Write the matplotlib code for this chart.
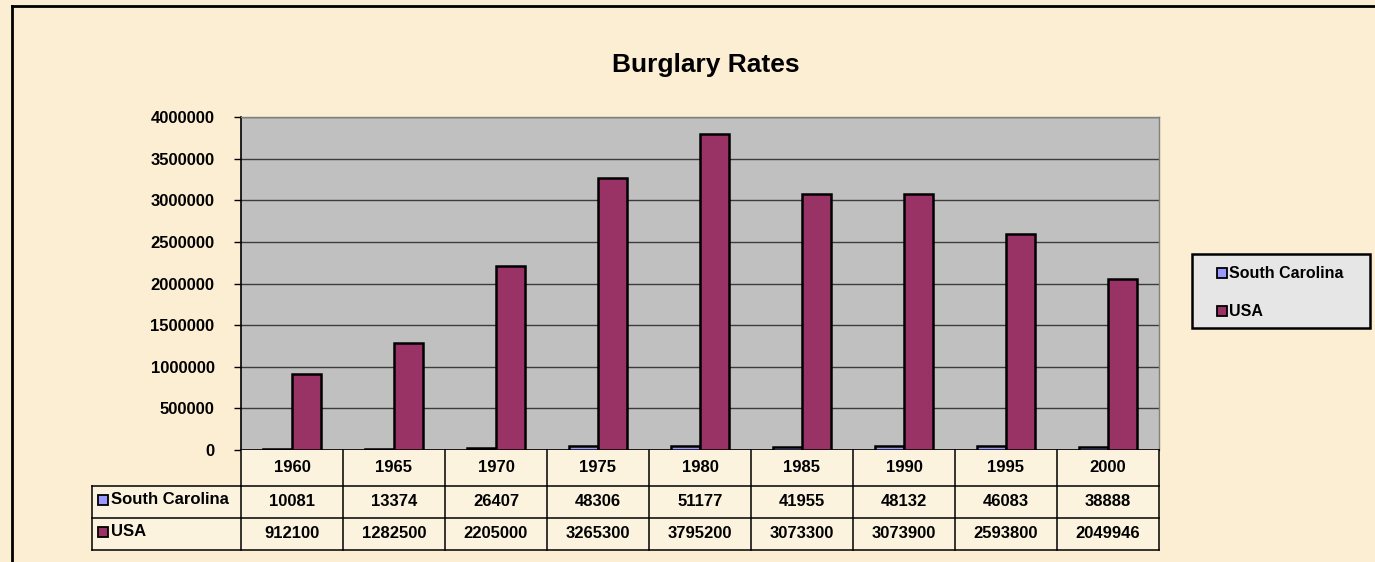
import matplotlib
matplotlib.use("Agg")
import matplotlib.pyplot as plt
import matplotlib.transforms as mtransforms
from matplotlib.lines import Line2D
from matplotlib.patches import Rectangle
import numpy as np

# ---- data ----
years = ["1960", "1965", "1970", "1975", "1980", "1985", "1990", "1995", "2000"]
south_carolina = [10081, 13374, 26407, 48306, 51177, 41955, 48132, 46083, 38888]
usa = [912100, 1282500, 2205000, 3265300, 3795200, 3073300, 3073900, 2593800, 2049946]
usa_labels = ["912100", "1282500", "2205000", "3265300", "3795200", "3073300",
              "3073900", "2593800", "2049946"]
series_names = ["South Carolina", "USA"]
title = "Burglary Rates"
y_ticks = [0, 500000, 1000000, 1500000, 2000000, 2500000, 3000000, 3500000, 4000000]

# ---- style ----
W, H = 1375, 562
BG = "#FCEED3"
CELL = "#FCF3DE"
SC_COLOR = "#9999FF"
USA_COLOR = "#993366"
FONT = "Liberation Sans"
plt.rcParams['font.family'] = [FONT, 'DejaVu Sans']

fig = plt.figure(figsize=(W / 100, H / 100), dpi=100, facecolor=BG)

# pixel transform (origin top-left)
pix = mtransforms.Affine2D().scale(1 / W, -1 / H).translate(0, 1) + fig.transFigure

# plot area in pixels
L, R, T, B = 241, 1159, 117, 450
ax = fig.add_axes([L / W, 1 - B / H, (R - L) / W, (B - T) / H])
ax.set_facecolor("#C0C0C0")

x = np.arange(len(years))
bw = 0.285
ax.bar(x - bw / 2, south_carolina, width=bw, color=SC_COLOR, edgecolor="black",
       linewidth=1.8, zorder=3)
ax.bar(x + bw / 2, usa, width=bw, color=USA_COLOR, edgecolor="black",
       linewidth=1.8, zorder=3)

ax.set_xlim(-0.5, len(years) - 0.5)
ax.set_ylim(0, 4000000)
ax.set_yticks(y_ticks)
ax.set_yticklabels([str(v) for v in y_ticks], fontsize=12, fontweight="bold")
ax.tick_params(axis="y", direction="out", length=5, width=1, pad=14, colors="black")
ax.set_xticks([])
ax.yaxis.grid(True, color="#3C3C3C", linewidth=1, zorder=0)
ax.set_axisbelow(True)
for s in ["top", "right"]:
    ax.spines[s].set_color("#808080")
    ax.spines[s].set_linewidth(1)
ax.spines["left"].set_color("black")
ax.spines["left"].set_linewidth(1.2)
ax.spines["bottom"].set_color("black")
ax.spines["bottom"].set_linewidth(1.2)

# title
fig.text(706 / W, 1 - 65 / H, title, ha="center", va="center", fontsize=19,
         fontweight="bold")

# ---- data table ----
blend = mtransforms.blended_transform_factory(ax.transData, pix)
TL = 92
# cell backgrounds
fig.add_artist(Rectangle((L, 450), R - L, 100, transform=pix, facecolor=CELL,
                         edgecolor="none", zorder=1))
fig.add_artist(Rectangle((TL, 486), L - TL, 64, transform=pix, facecolor=CELL,
                         edgecolor="none", zorder=1))
lk = dict(color="black", linewidth=1.1, zorder=2)
# horizontal lines
fig.add_artist(Line2D([L, R], [486, 486], transform=pix, **lk))
fig.add_artist(Line2D([TL, L], [486, 486], transform=pix, **lk))
fig.add_artist(Line2D([TL, R], [518, 518], transform=pix, **lk))
fig.add_artist(Line2D([TL, R], [550, 550], transform=pix, **lk))
# vertical lines
fig.add_artist(Line2D([TL, TL], [486, 550], transform=pix, **lk))
for i in range(len(years) + 1):
    xb = i - 0.5
    fig.add_artist(Line2D([xb, xb], [450, 550], transform=blend, **lk))

txt = dict(ha="center", va="center", fontsize=12, fontweight="bold", zorder=3)
for i, yr in enumerate(years):
    fig.text(i, 468, yr, transform=blend, **txt)
    fig.text(i, 502, str(south_carolina[i]), transform=blend, **txt)
    fig.text(i, 534, usa_labels[i], transform=blend, **txt)

for yy, name, col in [(502, series_names[0], SC_COLOR), (534, series_names[1], USA_COLOR)]:
    fig.add_artist(Line2D([103.5], [yy - 2], transform=pix, marker="s", markersize=6.5,
                          markerfacecolor=col, markeredgecolor="black",
                          markeredgewidth=1.3, linestyle="", zorder=3))
    fig.text(111, yy - 2, name, transform=pix, ha="left", va="center", fontsize=12,
             fontweight="bold", zorder=3)

# ---- legend ----
fig.add_artist(Rectangle((1192, 254), 178, 74, transform=pix, facecolor="#E6E6E6",
                         edgecolor="black", linewidth=1.8, zorder=2))
for yy, name, col in [(272, series_names[0], SC_COLOR), (310, series_names[1], USA_COLOR)]:
    fig.add_artist(Line2D([1222.5], [yy + 1], transform=pix, marker="s", markersize=6.5,
                          markerfacecolor=col, markeredgecolor="black",
                          markeredgewidth=1.3, linestyle="", zorder=3))
    fig.text(1229, yy + 1, name, transform=pix, ha="left", va="center", fontsize=11.5,
             fontweight="bold", zorder=3)

# ---- outer border (top and left) ----
fig.add_artist(Line2D([12, W], [6, 6], transform=pix, color="black", linewidth=2))
fig.add_artist(Line2D([12, 12], [6, H], transform=pix, color="black", linewidth=2))

fig.savefig("out.png", dpi=100, facecolor=BG)
